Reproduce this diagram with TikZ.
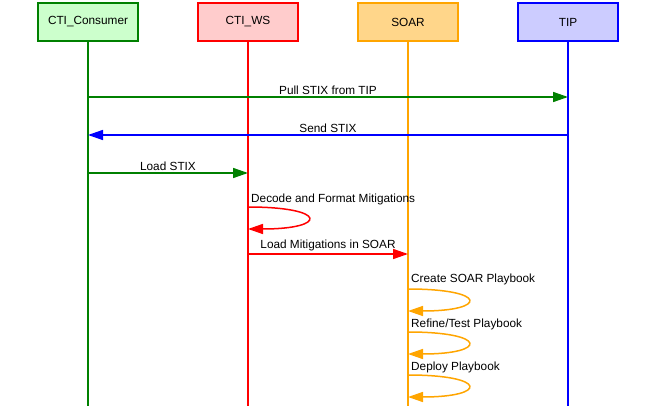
\documentclass[tikz,border=0pt]{standalone}
\usepackage{fontspec}
\setmainfont{Liberation Sans}
\usetikzlibrary{positioning}
\usetikzlibrary{arrows.meta}
\definecolor{darkgreen}{RGB}{0,128,0}
\definecolor{consfill}{RGB}{204,255,204}
\definecolor{wsfill}{RGB}{255,204,204}
\definecolor{soarcol}{RGB}{255,165,0}
\definecolor{soarfill}{RGB}{255,214,138}
\definecolor{tipfill}{RGB}{204,204,255}

\begin{document}
\begin{tikzpicture}[x=1pt,y=1pt,
		actor/.style={
			draw,
			line width=1.5pt,
			minimum width=100pt,
			minimum height=38pt,
			inner sep=0pt,
			outer sep=0pt,
			font=\fontsize{11.8}{14}\selectfont,
		},
		life/.style={line width=1.6pt},
		msg/.style={line width=1.5pt, -{Triangle[length=15pt,width=10pt]}},
		lbl/.style={font=\fontsize{11.8}{14}\selectfont, inner sep=2pt, text=black}]
		\useasboundingbox (0,0) rectangle (656,-406);
		\node[actor, color=darkgreen, fill=consfill, text=black] (cons) at (88,-22) {CTI\_Consumer};
		\node[actor, color=red, fill=wsfill, text=black, right=60pt of cons] (ws) {CTI\_WS};
		\node[actor, color=soarcol, fill=soarfill, text=black, right=60pt of ws] (soar) {SOAR};
		\node[actor, color=blue, fill=tipfill, text=black, right=60pt of soar] (tip) {TIP};
		
		% lifelines
		\coordinate (bot) at (0,-406);
		\draw[life, darkgreen] (cons.south) -- (cons |- bot);
		\draw[life, red] (ws.south) -- (ws |- bot);
		\draw[life, soarcol] (soar.south) -- (soar |- bot);
		\draw[life, blue] (tip.south) -- (tip |- bot);
		
		% message rows
		\coordinate (m1) at (0,-97);
		\coordinate (m2) at (0,-135);
		\coordinate (m3) at (0,-173);
		\coordinate (m4) at (0,-207);
		\coordinate (m4b) at (0,-229);
		\coordinate (m5) at (0,-254);
		\coordinate (m6) at (0,-289);
		\coordinate (m6b) at (0,-311);
		\coordinate (m7) at (0,-332);
		\coordinate (m7b) at (0,-354);
		\coordinate (m8) at (0,-375);
		\coordinate (m8b) at (0,-397);
		
		\draw[msg, darkgreen] (cons |- m1) -- node[lbl, above] (pull) {Pull STIX from TIP} (tip |- m1);
		\draw[msg, blue] (tip |- m2) -- node[lbl, above] (send) {Send STIX} (cons |- m2);
		\draw[msg, darkgreen] (cons |- m3) -- node[lbl, above] (load) {Load STIX} (ws |- m3);
		
		\draw[msg, red] (ws |- m4) .. controls +(80,0) and +(80,0) .. (ws |- m4b);
		\node[lbl, anchor=south west] (decode) at ([xshift=1pt]ws |- m4) {Decode and Format Mitigations};
		
		\draw[msg, red] (ws |- m5) -- node[lbl, above] (loadmit) {Load Mitigations in SOAR} (soar |- m5);
		
		\draw[msg, soarcol] (soar |- m6) .. controls +(80,0) and +(80,0) .. (soar |- m6b);
		\node[lbl, anchor=south west] (create) at ([xshift=1pt,yshift=2pt]soar |- m6) {Create SOAR Playbook};
		\draw[msg, soarcol] (soar |- m7) .. controls +(80,0) and +(80,0) .. (soar |- m7b);
		\node[lbl, anchor=south west] (refine) at ([xshift=1pt]soar |- m7) {Refine/Test Playbook};
		\draw[msg, soarcol] (soar |- m8) .. controls +(80,0) and +(80,0) .. (soar |- m8b);
		\node[lbl, anchor=south west] (deploy) at ([xshift=1pt]soar |- m8) {Deploy Playbook};
	\end{tikzpicture}
\end{document}
